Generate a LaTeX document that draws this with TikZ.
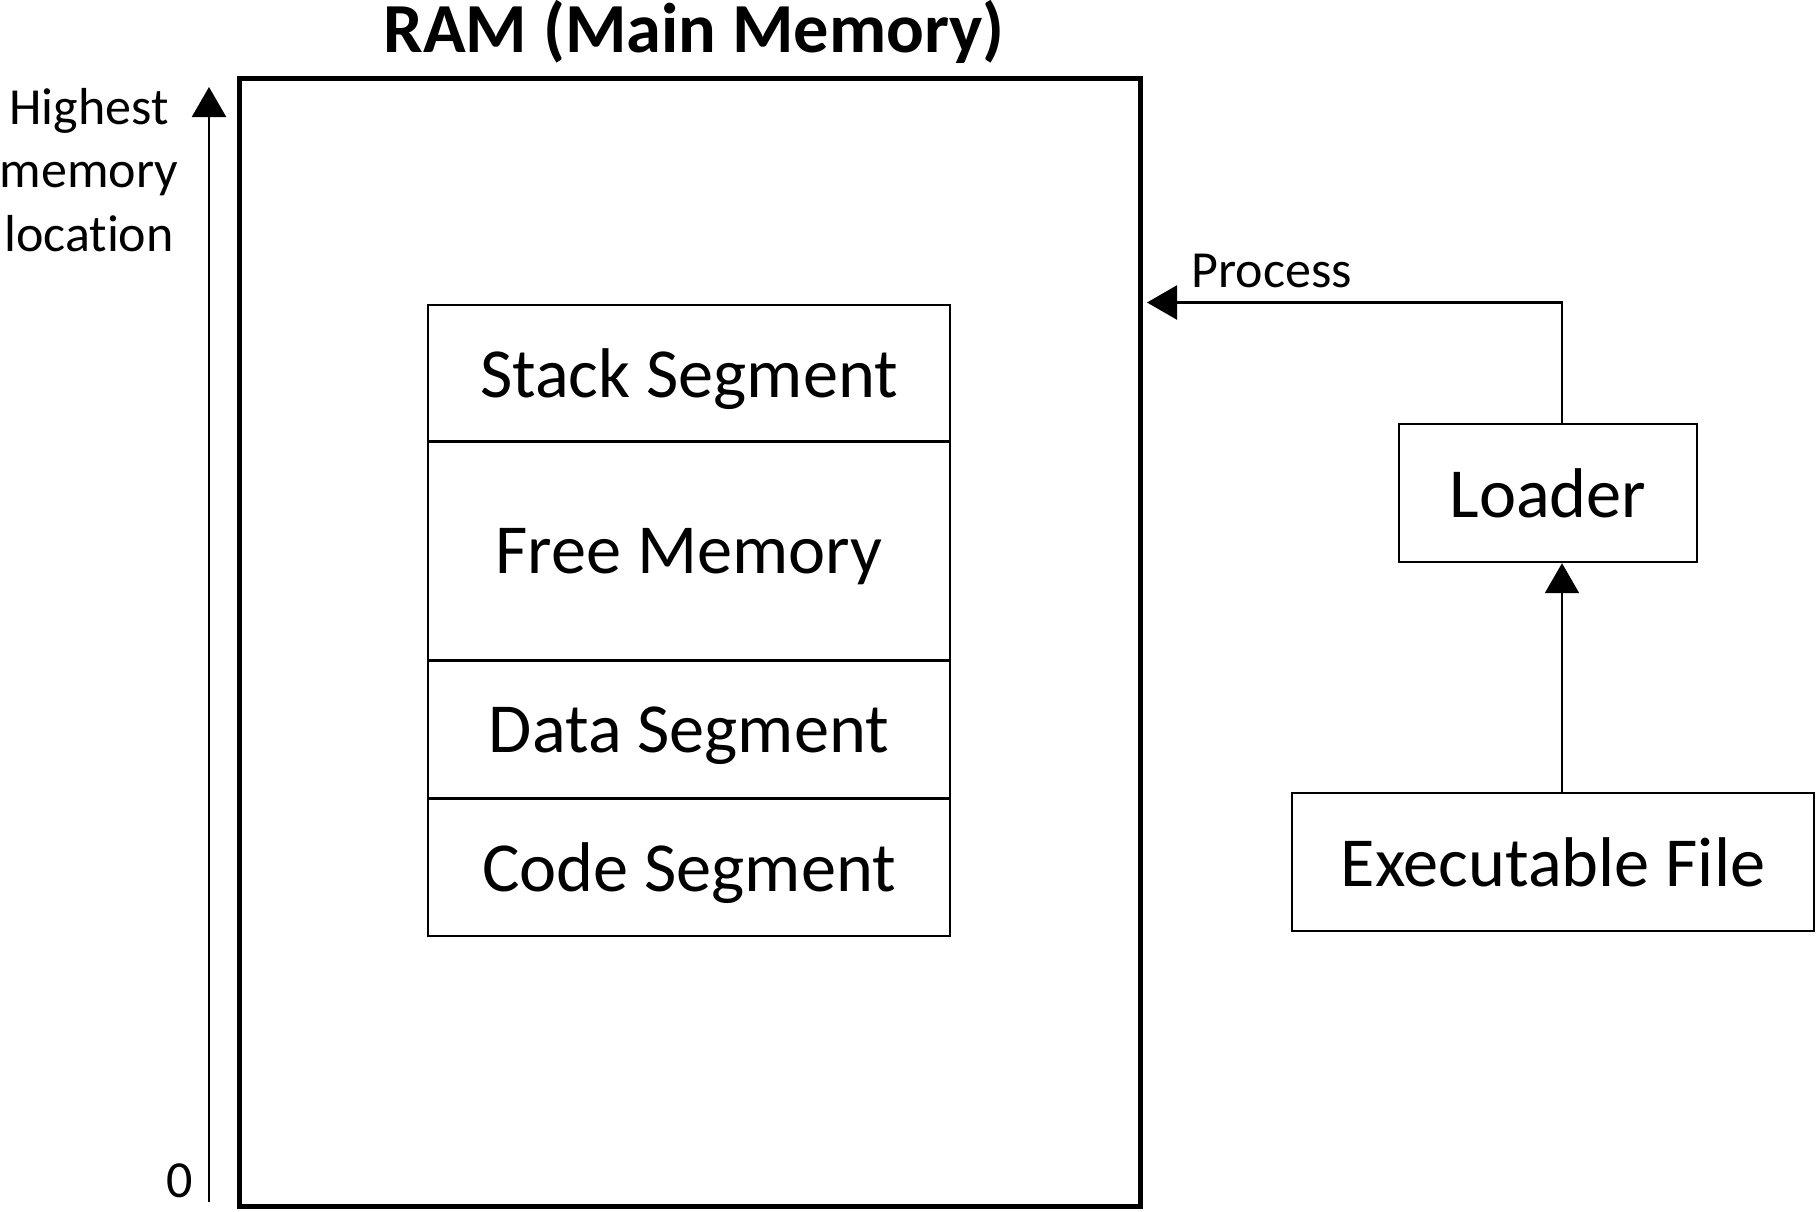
\documentclass[tikz,border=0pt]{standalone}
\usepackage{fontspec}
\setmainfont{Carlito}[Ligatures={NoCommon}]
\usetikzlibrary{arrows.meta}
\begin{document}
\begin{tikzpicture}[x=0.01cm,y=-0.01cm,
  seg/.style={draw, line width=0.65pt, inner sep=0pt, minimum width=5.22cm, text depth=0pt, font=\fontsize{20}{24}\selectfont},
  sidebox/.style={draw, line width=0.65pt, inner sep=0pt, minimum height=1.38cm, text depth=0pt, font=\fontsize{20}{24}\selectfont},
  conn/.style={line width=0.65pt, -{Triangle[length=0.3cm,width=0.34cm]}},
  lbl/.style={font=\fontsize{14.8}{18}\selectfont, inner sep=0pt}]
\useasboundingbox (0,0) rectangle (1817,1211);
% RAM
\node[draw, line width=1.3pt, inner sep=0pt, minimum width=9cm, minimum height=11.27cm] (ram) at (690,642.5) {};
\node[font=\bfseries\fontsize{20}{24}\selectfont, anchor=base, inner sep=0pt] (title) at (694,52) {RAM (Main Memory)};
% segments
\node[seg, minimum height=1.365cm] (stack) at (689,373) {Stack Segment};
\node[seg, minimum height=2.19cm] (free) at (689,551) {Free Memory};
\node[seg, minimum height=1.38cm] (data) at (689,729.5) {Data Segment};
\node[seg, minimum height=1.375cm] (code) at (689,867) {Code Segment};
% address axis
\coordinate (abot) at (209,1202);
\coordinate (atop) at (209,87);
\draw[conn] (abot) -- (atop);
\node[lbl, align=center, anchor=base] (high) at (89,251) {Highest\\memory\\location};
\node[lbl, anchor=base] (zero) at (180,1197) {0};
% loader side
\node[sidebox, minimum width=2.98cm] (loader) at (1548,493) {Loader};
\node[sidebox, minimum width=5.22cm] (exe) at (1553,862) {Executable File};
\coordinate (xline) at (1562,0);
\coordinate (ptip) at (1147,302.5);
\draw[conn] (exe.north -| xline) -- (loader.south -| xline);
\draw[conn] (loader.north -| xline) |- (ptip);
\node[lbl, anchor=base west] (proc) at (1191,287) {Process};
\end{tikzpicture}
\end{document}
